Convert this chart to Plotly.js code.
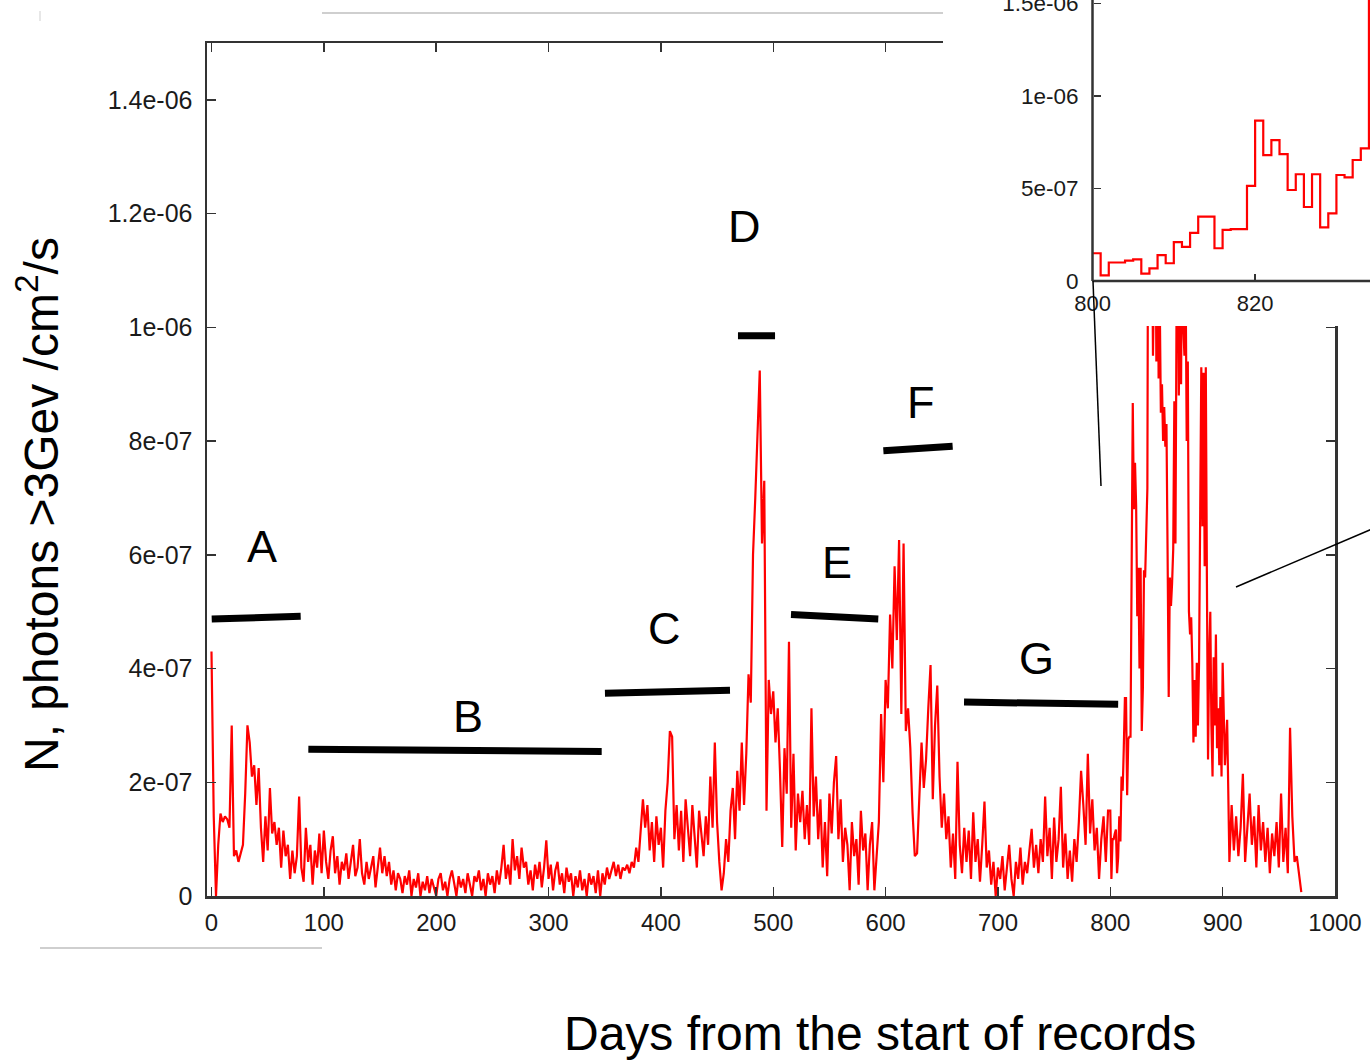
<!DOCTYPE html>
<html>
<head>
<meta charset="utf-8">
<script src="https://cdn.plot.ly/plotly-3.0.1.min.js"></script>
<style>html,body{margin:0;padding:0;background:#fff;}#chart{width:1370px;height:1060px;}</style>
</head>
<body>
<div id="chart"></div>
<script>
// ---------------- DATA (flux in units of 1e-7 photons/cm2/s) ----------------
// days 0..798, every 2 days
const fluxA_start = 0, fluxA_step = 2;
const fluxA = [
  4.3,1.4,0.0,0.9,1.45,1.3,1.4,1.35,1.2,3.0,
  0.7,0.8,0.6,0.75,0.9,1.8,3.0,2.7,2.1,2.3,
  1.6,2.25,1.2,0.6,1.4,0.8,1.9,1.1,1.3,0.9,
  1.2,0.5,1.15,0.7,0.9,0.3,0.8,0.4,0.7,1.75,
  0.5,0.25,1.2,0.6,0.9,0.2,0.8,0.5,1.1,0.4,
  1.15,0.6,0.3,0.8,1.05,0.4,0.7,0.2,0.6,0.45,
  0.75,0.3,0.6,0.9,0.35,0.5,1.0,0.4,0.2,0.6,
  0.3,0.5,0.7,0.15,0.55,0.85,0.4,0.7,0.35,0.6,
  0.2,0.45,0.1,0.4,0.3,0.05,0.35,0.2,0.45,0.0,
  0.3,0.15,0.4,0.0,0.25,0.1,0.35,0.05,0.3,0.15,
  0.0,0.3,0.4,0.1,0.25,0.0,0.3,0.45,0.2,0.0,
  0.35,0.15,0.3,0.05,0.4,0.2,0.0,0.35,0.25,0.45,
  0.1,0.3,0.0,0.4,0.2,0.35,0.05,0.45,0.2,0.5,
  0.9,0.3,0.55,0.2,1.0,0.45,0.7,0.3,0.85,0.5,
  0.6,0.2,0.45,0.1,0.55,0.3,0.6,0.15,0.5,0.98,
  0.3,0.55,0.1,0.45,0.6,0.2,0.4,0.05,0.5,0.25,
  0.4,0.0,0.35,0.15,0.45,0.1,0.3,0.0,0.4,0.2,
  0.35,0.05,0.45,0.0,0.4,0.2,0.5,0.3,0.45,0.6,
  0.35,0.55,0.3,0.5,0.45,0.55,0.4,0.6,0.5,0.85,
  0.6,1.1,1.7,1.2,1.6,0.8,1.3,0.6,1.4,0.9,
  1.2,0.5,1.5,2.0,2.9,2.8,1.0,1.6,0.8,1.5,
  0.6,1.7,1.2,0.7,1.6,1.0,0.5,1.5,1.1,0.7,
  1.4,0.9,2.1,1.2,2.7,1.3,0.6,0.1,0.4,1.0,
  0.6,1.5,1.9,1.0,2.2,1.5,2.7,1.6,2.5,3.9,
  3.4,6.0,7.0,8.1,9.24,6.2,7.3,1.5,3.8,3.2,
  3.6,2.7,3.3,2.2,0.86,2.6,1.8,4.47,1.2,2.5,
  0.8,1.8,1.3,1.85,1.0,1.6,0.9,3.3,1.4,2.1,
  1.0,1.7,0.5,1.3,0.35,1.8,1.1,2.0,2.46,1.0,
  1.7,0.6,1.2,0.9,0.1,1.3,0.7,1.0,0.2,1.5,
  0.8,1.1,0.1,0.9,1.3,0.1,0.8,1.3,3.2,2.0,
  3.8,3.3,4.95,4.0,5.8,4.5,6.26,3.2,6.2,2.9,
  3.3,2.6,1.47,0.7,0.75,1.7,2.7,1.9,2.4,3.3,
  4.06,1.7,3.0,3.7,2.1,1.2,1.8,1.0,1.4,0.5,
  1.1,0.3,2.36,0.9,0.4,1.2,0.6,1.15,0.3,1.47,
  0.6,1.0,0.25,0.9,1.66,0.5,0.8,0.2,0.6,0.0,
  0.5,0.3,0.7,0.1,0.5,0.9,0.3,0.0,0.6,0.3,
  0.85,0.2,0.6,0.4,0.8,1.18,0.5,0.9,0.4,1.0,
  0.6,1.75,0.7,1.2,0.3,1.38,0.6,1.0,1.92,0.5,
  1.1,0.3,0.8,0.25,1.0,0.6,1.3,2.2,1.6,0.9,
  2.5,1.1,1.7,0.8,1.2,0.3,1.0,1.4,0.6,1.5
];
// days 800..834, daily (also shown in the inset)
const fluxB_start = 800, fluxB_step = 1;
const fluxB = [
  1.5,0.3,1.0,1.0,1.1,1.17,0.4,0.68,1.4,0.96,
  2.1,1.85,2.6,3.48,3.48,1.77,2.76,2.8,2.8,5.14,
  8.67,6.8,7.62,6.86,4.92,5.77,4.0,5.77,2.9,3.66,
  5.73,5.6,6.54,7.17,15.5
];
// days 835..900, daily (main flare)
const fluxC_start = 835, fluxC_step = 1;
const fluxC = [
  14.0,
  15.0,12.0,9.5,11.0,13.0,9.4,12.5,9.1,10.5,8.5,
  9.0,8.0,8.6,7.9,8.3,6.0,3.5,5.6,5.1,5.5,
  6.1,8.7,6.2,10.5,12.0,8.8,11.5,9.0,12.5,10.0,
  9.5,11.0,8.0,9.4,5.0,4.6,4.9,4.1,2.7,3.8,
  2.8,4.1,3.0,4.1,6.8,9.3,6.5,9.2,5.8,9.3,
  5.5,2.4,4.2,5.0,3.0,2.1,4.2,3.0,4.6,2.6,
  3.3,2.3,3.5,2.1,4.1
];
// days 902..970, every 2 days
const fluxD_start = 902, fluxD_step = 2;
const fluxD = [
  2.3,3.1,0.6,1.6,0.8,1.4,0.7,1.2,2.15,0.6,
  1.3,1.8,0.9,1.4,0.5,1.6,0.8,1.3,0.6,1.2,
  0.4,1.1,0.7,1.3,0.5,1.8,0.6,1.2,0.4,2.96,
  1.4,0.6,0.7,0.4,0.07
];
const UNIT = 1e-7;

// tick labels
const mainXTicks = [0,100,200,300,400,500,600,700,800,900,1000];
const mainYTickVals = [0,2e-7,4e-7,6e-7,8e-7,1e-6,1.2e-6,1.4e-6];
const mainYTickText = ["0","2e-07","4e-07","6e-07","8e-07","1e-06","1.2e-06","1.4e-06"];
const insetXTicks = [800,820];
const insetYTickVals = [0,5e-7,1e-6,1.5e-6];
const insetYTickText = ["0","5e-07","1e-06","1.5e-06"];

// period labels and their bars (day, flux in 1e-7)
const periodNames = ["A","B","C","D","E","F","G"];
const periodLabelDay = [45,228,403.6,474,556.7,631.5,734.7];
const periodLabelFlux = [6.14,3.15,4.71,11.78,5.86,8.67,4.17];
const periodBarStart = [0.2,86.2,350.2,468.6,515.8,598,669.8];
const periodBarEnd = [79.4,347.3,461.5,501.6,593.5,659.7,807];
const periodBarFluxStart = [4.87,2.58,3.565,9.85,4.95,7.83,3.41];
const periodBarFluxEnd = [4.92,2.54,3.62,9.85,4.87,7.91,3.37];

// ---------------- BUILD ----------------
function seg(start, step, vals){ return vals.map((v,i)=>start+i*step); }
const days = [].concat(seg(fluxA_start,fluxA_step,fluxA), seg(fluxB_start,fluxB_step,fluxB),
                       seg(fluxC_start,fluxC_step,fluxC), seg(fluxD_start,fluxD_step,fluxD));
const flux = [].concat(fluxA, fluxB, fluxC, fluxD).map(v=>v*UNIT);
const insetDays = seg(fluxB_start,fluxB_step,fluxB);
const insetFlux = fluxB.map(v=>v*UNIT);

const W = 1370, H = 1060;
const PX = p => p / W, PY = p => 1 - p / H;
const FONT = "Liberation Sans, Arial, Helvetica, sans-serif";
const AXC = "#333";

const traces = [
  {x: days, y: flux, type: 'scatter', mode: 'lines', line: {color: '#ff0000', width: 2.2}, xaxis: 'x', yaxis: 'y', hoverinfo: 'skip'},
  {x: insetDays, y: insetFlux, type: 'scatter', mode: 'lines', line: {color: '#ff0000', width: 2.2, shape: 'hv'}, xaxis: 'x2', yaxis: 'y2', hoverinfo: 'skip'}
];

const shapes = [];
for (let i = 0; i < periodNames.length; i++) {
  shapes.push({type: 'line', xref: 'x', yref: 'y', layer: 'above',
    x0: periodBarStart[i], x1: periodBarEnd[i],
    y0: periodBarFluxStart[i]*UNIT, y1: periodBarFluxEnd[i]*UNIT,
    line: {color: '#000', width: 7}});
}
// inset frame lines
shapes.push({type:'line', xref:'paper', yref:'paper', layer:'above', x0:PX(1092.5), x1:PX(1092.5), y0:PY(0), y1:PY(281), line:{color:AXC, width:2.5}});
shapes.push({type:'line', xref:'paper', yref:'paper', layer:'above', x0:PX(1092.5), x1:PX(1370), y0:PY(281), y1:PY(281), line:{color:AXC, width:2.5}});
// connector lines
shapes.push({type:'line', xref:'paper', yref:'paper', layer:'above', x0:PX(1093), x1:PX(1101), y0:PY(281), y1:PY(486), line:{color:'#000', width:1.5}});
shapes.push({type:'line', xref:'paper', yref:'paper', layer:'above', x0:PX(1236), x1:PX(1372), y0:PY(587), y1:PY(529), line:{color:'#000', width:1.5}});
// faint grey leftovers of the original composite
shapes.push({type:'line', xref:'paper', yref:'paper', layer:'above', x0:PX(322), x1:PX(943), y0:PY(13), y1:PY(13), line:{color:'#cfcfcf', width:2}});
shapes.push({type:'line', xref:'paper', yref:'paper', layer:'above', x0:PX(40), x1:PX(322), y0:PY(948), y1:PY(948), line:{color:'#cfcfcf', width:2}});
shapes.push({type:'line', xref:'paper', yref:'paper', layer:'above', x0:PX(40), x1:PX(40), y0:PY(11), y1:PY(21), line:{color:'#cfcfcf', width:1}});

const annotations = [];
for (let i = 0; i < periodNames.length; i++) {
  annotations.push({xref:'x', yref:'y', x: periodLabelDay[i], y: periodLabelFlux[i]*UNIT,
    text: periodNames[i], showarrow:false, xanchor:'center', yanchor:'middle',
    font:{family:FONT, size:45, color:'#000'}});
}
annotations.push({xref:'paper', yref:'paper', x:PX(880), y:PY(1033), xanchor:'center', yanchor:'middle',
  text:'Days from the start of records', showarrow:false, font:{family:FONT, size:48, color:'#000'}});
annotations.push({xref:'paper', yref:'paper', x:PX(38), y:PY(505), xanchor:'center', yanchor:'middle', textangle:-90,
  text:'N, photons &gt;3Gev /cm<sup>2</sup>/s', showarrow:false, font:{family:FONT, size:48, color:'#000'}});

const layout = {
  width: W, height: H,
  margin: {l:0, r:0, t:0, b:0},
  paper_bgcolor: '#fff', plot_bgcolor: '#fff',
  showlegend: false,
  xaxis: {domain:[PX(207), PX(1335)], range:[-4,1000], tickvals: mainXTicks, ticktext: mainXTicks.map(String),
    ticks:'inside', ticklen:9, tickwidth:1.5, tickcolor:AXC, showline:true, linecolor:AXC, linewidth:2.5, mirror:'ticks',
    showgrid:false, zeroline:false, tickfont:{family:FONT, size:24, color:'#1a1a1a'}, ticklabelstandoff: 4, ticklabeloverflow:'allow'},
  yaxis: {domain:[PY(896), PY(43)], range:[0,1.5e-6], tickvals: mainYTickVals, ticktext: mainYTickText,
    ticks:'inside', ticklen:9, tickwidth:1.5, tickcolor:AXC, showline:true, linecolor:AXC, linewidth:2.5, mirror:'ticks',
    showgrid:false, zeroline:false, tickfont:{family:FONT, size:25, color:'#1a1a1a'}, ticklabelstandoff: 7},
  xaxis2: {domain:[PX(943), 1], anchor:'free', position: PY(281), range:[781.61, 834.13],
    tickvals: insetXTicks, ticktext: insetXTicks.map(String), ticks:'inside', ticklen:7, tickwidth:1.5, tickcolor:AXC,
    showline:false, showgrid:false, zeroline:false, tickfont:{family:FONT, size:22, color:'#1a1a1a'}, ticklabelstandoff: 7},
  yaxis2: {domain:[PY(326), 1], anchor:'free', position: PX(1092.5), range:[-2.432e-7, 1.5189e-6],
    tickvals: insetYTickVals, ticktext: insetYTickText, ticks:'inside', ticklen:7, tickwidth:1.5, tickcolor:AXC,
    showline:false, showgrid:false, zeroline:false, tickfont:{family:FONT, size:22.5, color:'#1a1a1a'}, ticklabelstandoff: 14,
    ticklabeloverflow:'allow'},
  shapes: shapes,
  annotations: annotations
};

Plotly.newPlot('chart', traces, layout, {displayModeBar:false, staticPlot:true});
</script>
</body>
</html>
